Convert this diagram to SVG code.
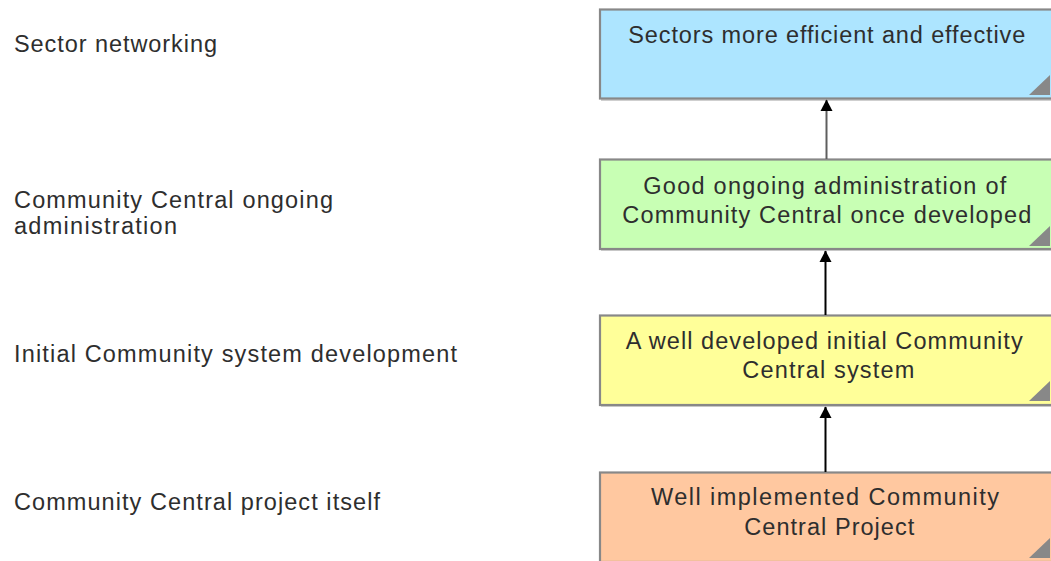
<svg xmlns="http://www.w3.org/2000/svg" width="1051" height="561" viewBox="0 0 1051 561">
<style>
  .lbl { font-family: "Liberation Sans", Arial, sans-serif; font-size: 23.5px; fill: #2e2e2e; }
  .shadow { fill: #cfcfcf; }
  .box { stroke: #888888; stroke-width: 2.2; }
  .corner { fill: #888888; }
  .conn { fill: none; stroke-width: 2; }
</style>
<defs>
  <marker id="arrow" markerUnits="userSpaceOnUse" markerWidth="13" markerHeight="13" refX="11.5" refY="6.5" orient="auto" viewBox="0 0 13 13">
    <path d="M12 6.5 L0.5 0.5 L0.5 12.5 Z" fill="#000"/>
  </marker>
</defs>
<rect width="1051" height="561" fill="#ffffff"/>

<g id="labels">
  <text class="lbl" x="14" y="51.5" textLength="203" lengthAdjust="spacing">Sector networking</text>
  <text class="lbl" x="14" y="208" textLength="319" lengthAdjust="spacing">Community Central ongoing</text>
  <text class="lbl" x="14" y="233.5" textLength="163" lengthAdjust="spacing">administration</text>
  <text class="lbl" x="14" y="361.5" textLength="443" lengthAdjust="spacing">Initial Community system development</text>
  <text class="lbl" x="14" y="510" textLength="366" lengthAdjust="spacing">Community Central project itself</text>
</g>

<g id="node-sectors">
  <rect class="shadow" x="601" y="11" width="460" height="90"/>
  <rect class="box" x="600" y="9.5" width="460" height="89" fill="#ade5ff"/>
  <polygon class="corner" points="1050,75 1050,95 1029,95"/>
  <text class="lbl" x="628.3" y="42.5" textLength="397" lengthAdjust="spacing">Sectors more efficient and effective</text>
</g>

<g id="node-admin">
  <rect class="shadow" x="601" y="161" width="460" height="90"/>
  <rect class="box" x="600" y="159.5" width="460" height="89.5" fill="#c8ffb4"/>
  <polygon class="corner" points="1050,226 1050,246 1029,246"/>
  <text class="lbl" x="643.3" y="194" textLength="363" lengthAdjust="spacing">Good ongoing administration of</text>
  <text class="lbl" x="622.3" y="222.5" textLength="409" lengthAdjust="spacing">Community Central once developed</text>
</g>

<g id="node-system">
  <rect class="shadow" x="601" y="317" width="460" height="90"/>
  <rect class="box" x="600" y="315.5" width="460" height="89.5" fill="#ffff99"/>
  <polygon class="corner" points="1050,381 1050,401 1029,401"/>
  <text class="lbl" x="625.7" y="349" textLength="397" lengthAdjust="spacing">A well developed initial Community</text>
  <text class="lbl" x="742.3" y="378" textLength="172" lengthAdjust="spacing">Central system</text>
</g>

<g id="node-project">
  <rect class="shadow" x="601" y="474" width="460" height="90"/>
  <rect class="box" x="600" y="472.5" width="460" height="89.5" fill="#ffc8a0"/>
  <polygon class="corner" points="1050,538 1050,558 1029,558"/>
  <text class="lbl" x="651" y="505" textLength="348" lengthAdjust="spacing">Well implemented Community</text>
  <text class="lbl" x="744.3" y="534.5" textLength="170" lengthAdjust="spacing">Central Project</text>
</g>

<g id="connectors">
  <line class="conn" x1="826.5" y1="159" x2="826.5" y2="100" stroke="#5e5e5e" stroke-width="3" marker-end="url(#arrow)"/>
  <line class="conn" x1="825.5" y1="315" x2="825.5" y2="251" stroke="#000000" marker-end="url(#arrow)"/>
  <line class="conn" x1="825.5" y1="472" x2="825.5" y2="407" stroke="#000000" marker-end="url(#arrow)"/>
</g>
</svg>
